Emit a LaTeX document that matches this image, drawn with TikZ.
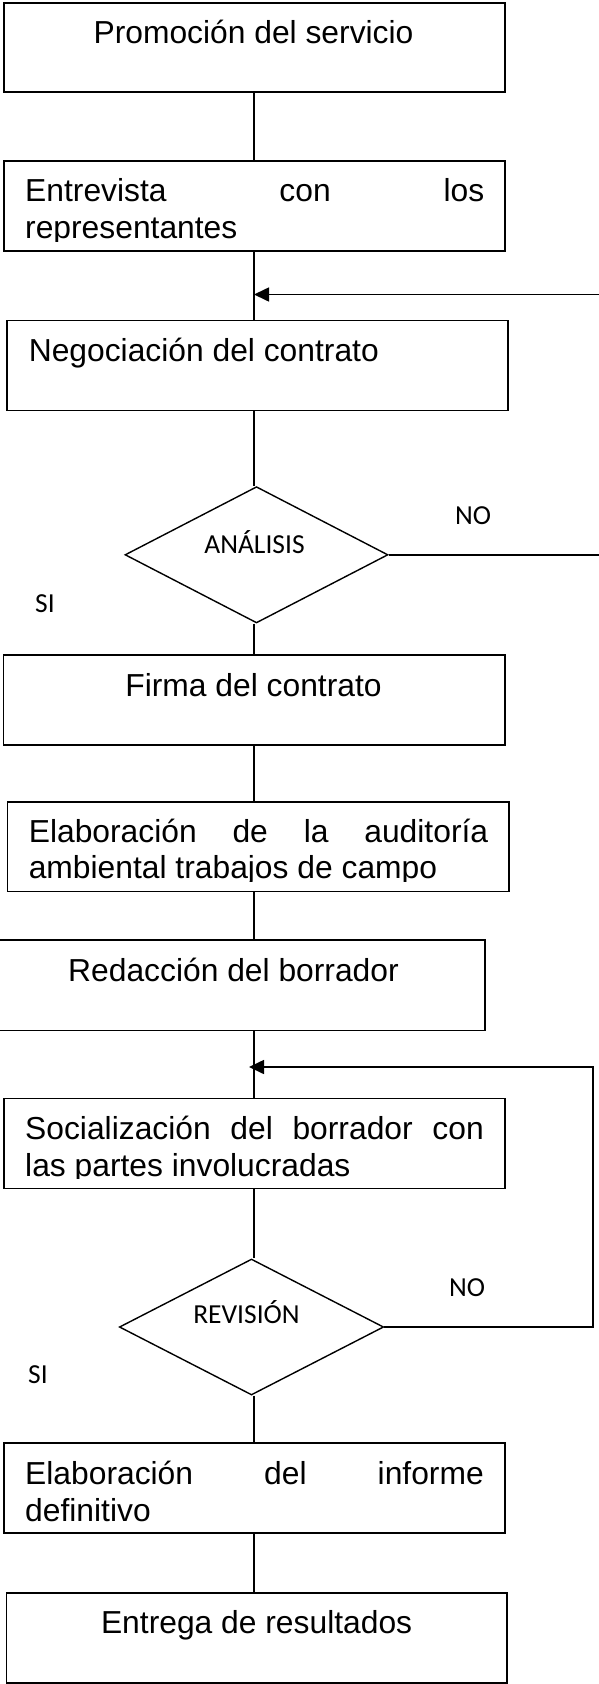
\documentclass[tikz,border=0pt]{standalone}
\usepackage{fontspec}
\setmainfont{Liberation Sans}
\newfontfamily\labfont{Carlito}
\usetikzlibrary{shapes.geometric,arrows.meta}
\tikzset{
  box/.style={draw, rectangle, line width=1.8pt, inner sep=0pt},
  dec/.style={draw, diamond, line width=1.4pt, inner sep=0pt},
  conn/.style={line width=1.6pt},
  arr/.style={line width=1.6pt, -{Triangle[length=15pt,width=14pt]}},
  btext/.style={inner sep=0pt, font=\fontsize{31.8}{36.8}\selectfont},
  ltext/.style={inner sep=0pt, font=\labfont\fontsize{27.5}{32}\selectfont},
}
\begin{document}
\begin{tikzpicture}[x=1pt,y=-1pt]
\useasboundingbox (0,0) rectangle (598,1684);
% boxes
\node[box, minimum width=501.2pt, minimum height=89.6pt] (b1) at (254.4,47.5) {};
\node[box, minimum width=501.5pt, minimum height=90pt] (b2) at (254.55,205.7) {};
\node[box, minimum width=501.1pt, minimum height=90pt] (b3) at (257.45,365.5) {};
\node[box, minimum width=501.5pt, minimum height=90pt] (b4) at (254.25,700) {};
\node[box, minimum width=501.5pt, minimum height=89.5pt] (b5) at (258.25,846.75) {};
\node[box, minimum width=486.5pt, minimum height=90.5pt] (b6) at (241.75,985.25) {};
\node[box, minimum width=501.2pt, minimum height=90pt] (b7) at (254.4,1143.5) {};
\node[box, minimum width=501.2pt, minimum height=90pt] (b8) at (254.4,1488) {};
\node[box, minimum width=500.5pt, minimum height=90pt] (b9) at (256.75,1637.7) {};
% decisions
\node[dec, minimum width=263pt, minimum height=136.3pt] (d1) at (256.5,554.8) {};
\node[dec, minimum width=264.3pt, minimum height=136pt] (d2) at (251.5,1327) {};
% helper coordinates
\coordinate (spine) at (254,0);
\coordinate (e1) at (600,554);
\coordinate (e1b) at (600,294.5);
\coordinate (r2) at (593,0);
\coordinate (t2) at (249,1067);
% connectors
\draw[conn] (b1.south -| spine) -- (b2.north -| spine);
\draw[conn] (b2.south -| spine) -- (b3.north -| spine);
\draw[conn] (b3.south -| spine) -- (d1.north -| spine);
\draw[conn] (d1.south -| spine) -- (b4.north -| spine);
\draw[conn] (b4.south -| spine) -- (b5.north -| spine);
\draw[conn] (b5.south -| spine) -- (b6.north -| spine);
\draw[conn] (b6.south -| spine) -- (b7.north -| spine);
\draw[conn] (b7.south -| spine) -- (d2.north -| spine);
\draw[conn] (d2.south -| spine) -- (b8.north -| spine);
\draw[conn] (b8.south -| spine) -- (b9.north -| spine);
\draw[conn] (d1.east) -- (d1.east -| e1);
\draw[arr] (e1b) -- (e1b -| spine);
\draw[arr] (d2.east) -- (d2.east -| r2) -- (t2 -| r2) -- (t2);
% box texts
\node[btext, anchor=base] (t1) at (253.5,43.7) {Promoción del servicio};
\node[btext, anchor=base west] (t2a) at (25,201.7) {\makebox[459pt][s]{Entrevista\hfill con\hfill los}};
\begin{scope}
\clip (0,0) rectangle (598,241.2);
\node[btext, anchor=base west] (t2b) at (25,238.7) {representantes};
\end{scope}
\node[btext, anchor=base west] (t3) at (28.6,361.5) {Negociación del contrato};
\node[btext, anchor=base] (t4) at (253.5,696) {Firma del contrato};
\node[btext, anchor=base west] (t5a) at (28.6,842.5) {\makebox[459.4pt][s]{Elaboración\hfill de\hfill la\hfill auditoría}};
\begin{scope}
\clip (0,700) rectangle (598,881);
\node[btext, anchor=base west] (t5b) at (28.6,878.5) {ambiental trabajos de campo};
\end{scope}
\node[btext, anchor=base] (t6) at (233.5,981) {Redacción del borrador};
\node[btext, anchor=base west] (t7a) at (25,1139.5) {\makebox[458.6pt][s]{Socialización\hfill del\hfill borrador\hfill con}};
\begin{scope}
\clip (0,1000) rectangle (598,1178.5);
\node[btext, anchor=base west] (t7b) at (25,1176.5) {las partes involucradas};
\end{scope}
\node[btext, anchor=base west] (t8a) at (25,1484) {\makebox[458.6pt][s]{Elaboración\hfill del\hfill informe}};
\node[btext, anchor=base west] (t8b) at (25,1521) {definitivo};
\node[btext, anchor=base] (t9) at (256.6,1633.5) {Entrega de resultados};
% labels
\node[ltext, anchor=base] (la1) at (254.5,553.5) {ANÁLISIS};
\node[ltext, anchor=base] (no1) at (473,524) {NO};
\node[ltext, anchor=base] (si1) at (45,612.7) {SI};
\node[ltext, anchor=base] (la2) at (246.5,1323) {REVISIÓN};
\node[ltext, anchor=base] (no2) at (467,1296) {NO};
\node[ltext, anchor=base] (si2) at (38,1383) {SI};
\end{tikzpicture}
\end{document}
